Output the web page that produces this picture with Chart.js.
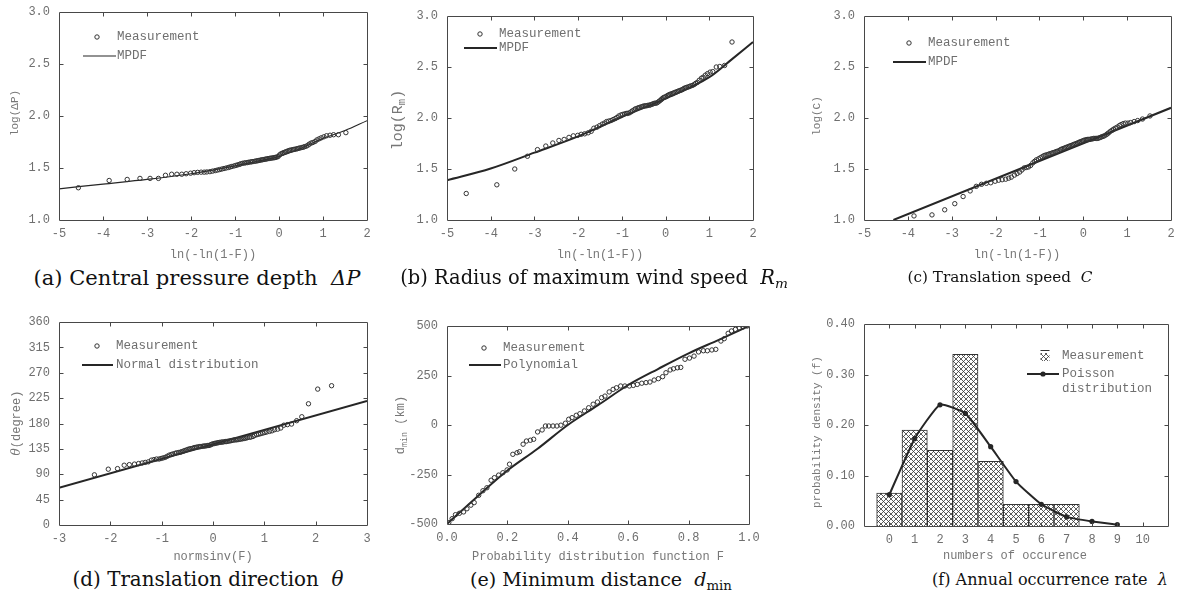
<!DOCTYPE html>
<html>
<head>
<meta charset="utf-8">
<script src="https://cdn.jsdelivr.net/npm/chart.js@4.4.1/dist/chart.umd.min.js"></script>
<style>
  html, body { margin: 0; padding: 0; background: #fff; }
  body { width: 1181px; height: 598px; position: relative; overflow: hidden; }
  canvas { position: absolute; }
  .lbl { position: absolute; white-space: nowrap; font-family: 'Liberation Mono', 'Courier New', monospace;
         font-size: 12px; color: #777; line-height: 1; transform: translate(-50%, -50%); }
  .ylbl { transform: translate(-50%, -50%) rotate(-90deg); }
  .lbl sub { font-size: 0.7em; vertical-align: -0.3em; line-height: 0; }
  .gk { font-family: 'DejaVu Serif', serif; font-style: italic; }
  .cap { position: absolute; white-space: nowrap; font-family: 'DejaVu Serif', serif; font-size: 19px;
         color: #111; line-height: 1; transform: translate(-50%, -50%); }
  .cap sub { font-size: 0.7em; vertical-align: -0.3em; line-height: 0; }
</style>
</head>
<body>
<canvas id="chartA"></canvas>
<canvas id="chartB"></canvas>
<canvas id="chartC"></canvas>
<canvas id="chartD"></canvas>
<canvas id="chartE"></canvas>
<canvas id="chartF"></canvas>

<!-- axis titles -->
<div class="lbl" style="left:213px;top:255px">ln(-ln(1-F))</div>
<div class="lbl" style="left:600px;top:255px">ln(-ln(1-F))</div>
<div class="lbl" style="left:1017px;top:255px">ln(-ln(1-F))</div>
<div class="lbl" style="left:213px;top:557px">normsinv(F)</div>
<div class="lbl" style="left:598px;top:557px">Probability distribution function F</div>
<div class="lbl" style="left:1015px;top:556px">numbers of occurence</div>
<div class="lbl ylbl" style="left:15px;top:113px;font-size:11px">log(ΔP)</div>
<div class="lbl ylbl" style="left:398px;top:120px;font-size:15px">log(R<sub>m</sub>)</div>
<div class="lbl ylbl" style="left:817px;top:116px;font-size:11px">log(C)</div>
<div class="lbl ylbl" style="left:16px;top:423px;font-size:12px"><i class="gk">θ</i>(degree)</div>
<div class="lbl ylbl" style="left:401px;top:425px;font-size:12px">d<sub>min</sub> (km)</div>
<div class="lbl ylbl" style="left:817px;top:432px;font-size:11px">probability density (f)</div>

<!-- captions -->
<div class="cap" data-w="327" style="left:197px;top:278px">(a) Central pressure depth&nbsp; <i>ΔP</i></div>
<div class="cap" data-w="388" style="left:594px;top:278px">(b) Radius of maximum wind speed&nbsp; <i>R<sub>m</sub></i></div>
<div class="cap" data-w="185" style="left:1000px;top:278px">(c) Translation speed&nbsp; <i>C</i></div>
<div class="cap" data-w="271" style="left:208px;top:580px">(d) Translation direction&nbsp; <i>θ</i></div>
<div class="cap" data-w="262" style="left:601px;top:580px">(e) Minimum distance&nbsp; <i>d</i><sub>min</sub></div>
<div class="cap" data-w="236" style="left:1050px;top:580px">(f) Annual occurrence rate&nbsp; <i>λ</i></div>

<script>
// Gumbel plotting positions ln(-ln(1-F)) (a)-(c)
const gumbelX = [-4.56, -3.86, -3.45, -3.16, -2.93, -2.74, -2.58, -2.44, -2.32, -2.21,
    -2.11, -2.01, -1.93, -1.85, -1.77, -1.70, -1.64, -1.57, -1.51, -1.45,
    -1.40, -1.35, -1.30, -1.25, -1.20, -1.15, -1.11, -1.07, -1.02, -0.98,
    -0.94, -0.90, -0.87, -0.83, -0.79, -0.76, -0.72, -0.69, -0.65, -0.62,
    -0.59, -0.55, -0.52, -0.49, -0.46, -0.43, -0.40, -0.37, -0.34, -0.31,
    -0.28, -0.25, -0.22, -0.19, -0.16, -0.13, -0.10, -0.08, -0.05, -0.02,
    0.01, 0.04, 0.07, 0.09, 0.12, 0.15, 0.18, 0.21, 0.24, 0.27,
    0.30, 0.33, 0.36, 0.39, 0.42, 0.45, 0.48, 0.52, 0.55, 0.58,
    0.62, 0.66, 0.69, 0.73, 0.77, 0.82, 0.86, 0.91, 0.96, 1.02,
    1.08, 1.16, 1.24, 1.35, 1.52];

// (a) log(ΔP)
const pressureY = [1.31, 1.38, 1.39, 1.40, 1.40, 1.40, 1.43, 1.44, 1.44, 1.44,
    1.445, 1.45, 1.455, 1.458, 1.46, 1.46, 1.462, 1.465, 1.47, 1.475,
    1.48, 1.485, 1.49, 1.495, 1.50, 1.505, 1.51, 1.515, 1.52, 1.525,
    1.53, 1.535, 1.54, 1.545, 1.548, 1.55, 1.552, 1.555, 1.558, 1.56,
    1.562, 1.565, 1.567, 1.57, 1.572, 1.575, 1.578, 1.58, 1.582, 1.585,
    1.587, 1.59, 1.592, 1.594, 1.596, 1.598, 1.60, 1.602, 1.605, 1.61,
    1.625, 1.635, 1.64, 1.645, 1.65, 1.655, 1.66, 1.665, 1.67, 1.672,
    1.675, 1.678, 1.68, 1.683, 1.686, 1.69, 1.693, 1.697, 1.70, 1.705,
    1.71, 1.72, 1.73, 1.74, 1.745, 1.755, 1.77, 1.78, 1.79, 1.80,
    1.81, 1.815, 1.82, 1.82, 1.84];
const pressureFitX = [-5, -4, -3, -2, -1.5, -1, -0.5, 0, 0.5, 1, 1.5, 2];
const pressureFitY = [1.30, 1.345, 1.39, 1.445, 1.48, 1.52, 1.565, 1.61, 1.69, 1.785, 1.86, 1.955];

// (b) log(Rm)
const radiusY = [1.26, 1.345, 1.50, 1.625, 1.69, 1.725, 1.755, 1.78, 1.79, 1.81,
    1.825, 1.83, 1.84, 1.845, 1.855, 1.87, 1.90, 1.91, 1.925, 1.94,
    1.95, 1.965, 1.97, 1.975, 1.985, 1.995, 2.005, 2.02, 2.03, 2.035,
    2.04, 2.045, 2.045, 2.05, 2.06, 2.07, 2.08, 2.09, 2.095, 2.10,
    2.105, 2.11, 2.115, 2.118, 2.12, 2.12, 2.125, 2.125, 2.13, 2.135,
    2.14, 2.145, 2.145, 2.15, 2.16, 2.17, 2.18, 2.19, 2.20, 2.205,
    2.21, 2.22, 2.225, 2.23, 2.235, 2.24, 2.245, 2.25, 2.255, 2.26,
    2.265, 2.27, 2.275, 2.28, 2.29, 2.295, 2.30, 2.305, 2.31, 2.315,
    2.32, 2.33, 2.34, 2.35, 2.37, 2.39, 2.40, 2.42, 2.435, 2.45,
    2.455, 2.50, 2.505, 2.515, 2.745];
const radiusFitX = [-5, -4, -3, -2, -1, 0, 1, 1.5, 2];
const radiusFitY = [1.39, 1.505, 1.66, 1.82, 2.01, 2.19, 2.40, 2.57, 2.745];

// (c) log(C) - the first point falls below the axis and is not shown
const speedY = [null, 1.04, 1.05, 1.10, 1.16, 1.23, 1.285, 1.33, 1.35, 1.36,
    1.365, 1.38, 1.39, 1.395, 1.40, 1.41, 1.42, 1.44, 1.455, 1.47,
    1.49, 1.51, 1.515, 1.52, 1.535, 1.56, 1.575, 1.59, 1.60, 1.61,
    1.62, 1.63, 1.635, 1.64, 1.645, 1.65, 1.655, 1.66, 1.665, 1.67,
    1.675, 1.68, 1.69, 1.695, 1.70, 1.705, 1.71, 1.715, 1.72, 1.725,
    1.73, 1.735, 1.74, 1.745, 1.75, 1.755, 1.76, 1.765, 1.77, 1.775,
    1.78, 1.785, 1.785, 1.79, 1.79, 1.79, 1.795, 1.795, 1.80, 1.80,
    1.80, 1.80, 1.805, 1.81, 1.815, 1.82, 1.825, 1.835, 1.845, 1.855,
    1.87, 1.88, 1.89, 1.90, 1.91, 1.925, 1.935, 1.945, 1.95, 1.95,
    1.955, 1.965, 1.975, 1.99, 2.02];
const speedFitX = [-4.33, 2];
const speedFitY = [1.0, 2.10];

// (d) normsinv(F) and direction in degrees
const normalX = [-2.31, -2.04, -1.86, -1.73, -1.63, -1.53, -1.45, -1.38, -1.32, -1.26,
    -1.20, -1.15, -1.10, -1.05, -1.01, -0.97, -0.93, -0.89, -0.85, -0.81,
    -0.78, -0.74, -0.71, -0.67, -0.64, -0.61, -0.58, -0.55, -0.52, -0.49,
    -0.46, -0.43, -0.40, -0.37, -0.35, -0.32, -0.29, -0.26, -0.24, -0.21,
    -0.18, -0.16, -0.13, -0.10, -0.08, -0.05, -0.03, 0,
    0.03, 0.05, 0.08, 0.10, 0.13, 0.16, 0.18,
    0.21, 0.24, 0.26, 0.29, 0.32, 0.35, 0.37, 0.40, 0.43, 0.46,
    0.49, 0.52, 0.55, 0.58, 0.61, 0.64, 0.67, 0.71, 0.74, 0.78,
    0.81, 0.85, 0.89, 0.93, 0.97, 1.01, 1.05, 1.10, 1.15, 1.20,
    1.26, 1.32, 1.38, 1.45, 1.53, 1.63, 1.73, 1.86, 2.04, 2.31];
const directionY = [89, 99, 100, 106, 107, 108, 109, 110, 111, 112,
    115, 116, 117, 117, 118, 119, 120, 122, 124, 125,
    126, 127, 128, 128.5, 129, 130, 131, 132, 133, 134,
    135, 135.5, 136, 137, 137.5, 138, 138.5, 139, 139, 139.5,
    140, 140, 140.5, 141, 141, 142, 143, 144,
    144.5, 145, 145.5, 146, 146.5, 147, 147,
    147.5, 148, 148, 148.5, 149, 149.5, 150, 150.5, 151, 151,
    151.5, 152, 152.5, 153, 153.5, 154, 155, 155.5, 156, 157,
    159, 160, 161, 162, 163, 164, 165, 166, 167, 169,
    170, 172, 177, 178, 179, 185, 192, 215, 241, 247];
const directionFitX = [-3, 3];
const directionFitY = [66, 220];

// (e) minimum distance against F
const distanceF = [0.006, 0.017, 0.028, 0.041, 0.055, 0.066, 0.079, 0.090, 0.105, 0.119,
    0.132, 0.146, 0.157, 0.171, 0.185, 0.199, 0.207, 0.218, 0.232, 0.240,
    0.252, 0.263, 0.276, 0.287, 0.300, 0.315, 0.326, 0.337, 0.351, 0.364,
    0.377, 0.392, 0.403, 0.414, 0.428, 0.440, 0.455, 0.469, 0.484, 0.498,
    0.512, 0.523, 0.537, 0.550, 0.561, 0.575, 0.589, 0.604, 0.617, 0.630,
    0.645, 0.659, 0.672, 0.686, 0.700, 0.714, 0.725, 0.739, 0.750, 0.763,
    0.774, 0.788, 0.803, 0.818, 0.833, 0.849, 0.862, 0.877, 0.890, 0.907,
    0.918, 0.931, 0.942, 0.955, 0.968, 0.980, 0.994];
const distanceY = [-493, -473, -453, -446, -439, -423, -405, -392, -355, -332,
    -317, -279, -266, -253, -241, -227, -198, -148, -140, -135,
    -97, -81, -77, -72, -35, -25, -5, -5, -5, -5,
    -1, 9, 29, 37, 49, 57, 71, 87, 105, 116,
    138, 146, 167, 180, 188, 197, 197, 197, 200, 205,
    211, 214, 217, 227, 234, 244, 264, 278, 284, 289,
    291, 332, 338, 348, 369, 375, 375, 379, 382, 424,
    436, 463, 475, 483, 490, 495, 500];
const distanceFitX = [0, 0.1, 0.2, 0.3, 0.4, 0.5, 0.6, 0.7, 0.8, 0.9, 1.0];
const distanceFitY = [-500, -362, -230, -120, 0, 100, 202, 284, 362, 430, 500];

// (f) annual occurrence histogram and Poisson fit
const occurrenceCounts = [0, 1, 2, 3, 4, 5, 6, 7];
const occurrenceFreq = [0.065, 0.19, 0.15, 0.34, 0.128, 0.043, 0.043, 0.043];
const poissonX = [0, 1, 2, 3, 4, 5, 6, 7, 8, 9];
const poissonY = [0.062, 0.173, 0.240, 0.223, 0.157, 0.088, 0.043, 0.018, 0.009, 0.003];

const MONO = "'Liberation Mono', 'Courier New', monospace";
const GREY = '#6f6f6f';
const INK = '#262626';
const PAD_LEFT = 58, PAD_TOP = 10, PAD_RIGHT = 16, PAD_BOTTOM = 30;

// plot areas in page pixels
const areas = {
    chartA: { x: 59, y: 12, w: 308, h: 208 },
    chartB: { x: 447, y: 16, w: 306, h: 204 },
    chartC: { x: 864, y: 16, w: 307, h: 204 },
    chartD: { x: 59, y: 322, w: 308, h: 203 },
    chartE: { x: 447, y: 326, w: 302, h: 198 },
    chartF: { x: 864, y: 324, w: 304, h: 202 }
};

function placeCanvas(id) {
    const a = areas[id];
    const c = document.getElementById(id);
    c.width = a.w + PAD_LEFT + PAD_RIGHT;
    c.height = a.h + PAD_TOP + PAD_BOTTOM;
    c.style.left = (a.x - PAD_LEFT) + 'px';
    c.style.top = (a.y - PAD_TOP) + 'px';
    return c;
}

function pairs(xs, ys) {
    return xs.map((x, i) => ({ x: x, y: ys[i] }));
}

function axis(side, min, max, step, fmt) {
    const isX = side === 'x';
    return {
        type: 'linear',
        position: isX ? 'bottom' : 'left',
        min: min, max: max, offset: false,
        grid: { display: false, drawTicks: false },
        border: { display: false },
        ticks: {
            stepSize: step, autoSkip: false, maxRotation: 0,
            padding: isX ? 7 : 9, color: GREY,
            font: { family: MONO, size: 12 },
            callback: fmt
        },
        afterFit(s) {
            if (isX) s.height = PAD_BOTTOM; else s.width = PAD_LEFT;
            s.paddingLeft = 0; s.paddingRight = 0; s.paddingTop = 0; s.paddingBottom = 0;
        }
    };
}

// box round the plot with short inward ticks on all four sides
const framePlugin = {
    id: 'frame',
    afterDatasetsDraw(chart) {
        const { ctx, chartArea: a, scales } = chart;
        const L = Math.round(a.left) + 0.5, R = Math.round(a.right) + 0.5;
        const T = Math.round(a.top) + 0.5, B = Math.round(a.bottom) + 0.5;
        ctx.save();
        ctx.strokeStyle = '#484848';
        ctx.lineWidth = 1;
        ctx.beginPath();
        ctx.rect(L, T, R - L, B - T);
        scales.x.ticks.forEach(t => {
            if (t.value <= scales.x.min || t.value >= scales.x.max) return;
            const px = Math.round(scales.x.getPixelForValue(t.value)) + 0.5;
            ctx.moveTo(px, B); ctx.lineTo(px, B - 4);
            ctx.moveTo(px, T); ctx.lineTo(px, T + 4);
        });
        scales.y.ticks.forEach(t => {
            if (t.value <= scales.y.min || t.value >= scales.y.max) return;
            const py = Math.round(scales.y.getPixelForValue(t.value)) + 0.5;
            ctx.moveTo(L, py); ctx.lineTo(L + 4, py);
            ctx.moveTo(R, py); ctx.lineTo(R - 4, py);
        });
        ctx.stroke();
        ctx.restore();
    }
};

// legend drawn inside the plot area, styled from the datasets
const legendPlugin = {
    id: 'insetLegend',
    afterDraw(chart, args, opts) {
        const items = opts.items || [];
        const { ctx, chartArea: a } = chart;
        ctx.save();
        ctx.font = '12.5px ' + MONO;
        ctx.textBaseline = 'middle';
        items.forEach(it => {
            const ds = chart.data.datasets[it.ds];
            const y = a.top + it.y;
            if (it.kind === 'circle') {
                ctx.beginPath();
                ctx.arc(a.left + it.x, y, ds.pointRadius, 0, Math.PI * 2);
                ctx.lineWidth = ds.pointBorderWidth;
                ctx.strokeStyle = ds.pointBorderColor;
                ctx.stroke();
            } else if (it.kind === 'line') {
                ctx.beginPath();
                ctx.moveTo(a.left + it.x1, y);
                ctx.lineTo(a.left + it.x2, y);
                ctx.lineWidth = ds.borderWidth;
                ctx.strokeStyle = ds.borderColor;
                ctx.stroke();
                if (it.dot) {
                    ctx.beginPath();
                    ctx.arc(a.left + it.dot, y, ds.pointRadius, 0, Math.PI * 2);
                    ctx.fillStyle = ds.pointBackgroundColor;
                    ctx.fill();
                }
            } else if (it.kind === 'hatch') {
                const x0 = a.left + it.x - 4.5, y0 = y - 3;
                ctx.fillStyle = ds.backgroundColor;
                ctx.fillRect(x0, y0, 9, 8);
                ctx.strokeStyle = ds.borderColor;
                ctx.lineWidth = 1;
                ctx.beginPath();
                ctx.moveTo(x0, y0 - 2.5); ctx.lineTo(x0 + 9, y0 - 2.5);
                ctx.stroke();
            }
            ctx.fillStyle = GREY;
            it.text.forEach((t, i) => ctx.fillText(t, a.left + opts.textX, y + i * 15));
        });
        ctx.restore();
    }
};

function baseOptions(xAxis, yAxis, legend) {
    return {
        responsive: false,
        animation: false,
        devicePixelRatio: 1,
        layout: { padding: { left: 0, top: PAD_TOP, right: PAD_RIGHT, bottom: 0 } },
        scales: { x: xAxis, y: yAxis },
        plugins: {
            legend: { display: false },
            tooltip: { enabled: false },
            insetLegend: legend
        }
    };
}

function measurementSet(xs, ys) {
    return {
        label: 'Measurement',
        data: pairs(xs, ys),
        showLine: false,
        pointRadius: 2.2,
        pointBorderWidth: 1,
        pointBorderColor: '#333',
        pointBackgroundColor: 'rgba(255,255,255,0)',
        order: 0
    };
}

function fitSet(label, xs, ys, width) {
    return {
        label: label,
        data: pairs(xs, ys),
        showLine: true,
        borderColor: INK,
        borderWidth: width,
        pointRadius: 0,
        cubicInterpolationMode: 'monotone',
        order: 1
    };
}

function scatterPanel(id, sets, xAxis, yAxis, legend) {
    new Chart(placeCanvas(id), {
        type: 'scatter',
        data: { datasets: sets },
        options: baseOptions(xAxis, yAxis, legend),
        plugins: [framePlugin, legendPlugin]
    });
}

const oneDec = v => v.toFixed(1);
const plain = v => String(v);

function legendFor(fitName, c, l, textX) {
    return {
        textX: textX,
        items: [
            { kind: 'circle', ds: 0, x: c[0], y: c[1], text: ['Measurement'] },
            { kind: 'line', ds: 1, x1: l[0], x2: l[1], y: l[2], text: [fitName] }
        ]
    };
}

function initPanels() {
    scatterPanel('chartA',
        [measurementSet(gumbelX, pressureY), fitSet('MPDF', pressureFitX, pressureFitY, 1.2)],
        axis('x', -5, 2, 1, plain), axis('y', 1, 3, 0.5, oneDec),
        legendFor('MPDF', [38, 25], [24, 57, 44], 58));

    scatterPanel('chartB',
        [measurementSet(gumbelX, radiusY), fitSet('MPDF', radiusFitX, radiusFitY, 2)],
        axis('x', -5, 2, 1, plain), axis('y', 1, 3, 0.5, oneDec),
        legendFor('MPDF', [33, 18], [17, 50, 32], 52));

    scatterPanel('chartC',
        [measurementSet(gumbelX, speedY), fitSet('MPDF', speedFitX, speedFitY, 2)],
        axis('x', -5, 2, 1, plain), axis('y', 1, 3, 0.5, oneDec),
        legendFor('MPDF', [45, 27], [29, 62, 46], 64));

    scatterPanel('chartD',
        [measurementSet(normalX, directionY), fitSet('Normal distribution', directionFitX, directionFitY, 2)],
        axis('x', -3, 3, 1, plain), axis('y', 0, 360, 45, plain),
        legendFor('Normal distribution', [38, 24], [23, 54, 43], 57));

    scatterPanel('chartE',
        [measurementSet(distanceF, distanceY), fitSet('Polynomial', distanceFitX, distanceFitY, 2)],
        axis('x', 0, 1, 0.2, oneDec), axis('y', -500, 500, 250, plain),
        legendFor('Polynomial', [37, 22], [22, 54, 39], 56));

    // cross-hatched fill for the histogram bars
    const canvasF = placeCanvas('chartF');
    const tile = document.createElement('canvas');
    tile.width = 5; tile.height = 5;
    const g = tile.getContext('2d');
    g.fillStyle = '#fff';
    g.fillRect(0, 0, 5, 5);
    g.strokeStyle = '#333';
    g.lineWidth = 0.8;
    g.beginPath();
    g.moveTo(0, 0); g.lineTo(5, 5);
    g.moveTo(5, 0); g.lineTo(0, 5);
    g.stroke();
    const hatch = canvasF.getContext('2d').createPattern(tile, 'repeat');

    new Chart(canvasF, {
        type: 'bar',
        data: {
            datasets: [{
                type: 'line',
                label: 'Poisson distribution',
                data: pairs(poissonX, poissonY),
                borderColor: INK,
                borderWidth: 2,
                pointRadius: 2.6,
                pointBorderWidth: 0,
                pointBackgroundColor: INK,
                tension: 0.15,
                order: 0
            }, {
                type: 'bar',
                label: 'Measurement',
                data: pairs(occurrenceCounts, occurrenceFreq),
                backgroundColor: hatch,
                borderColor: '#333',
                borderWidth: 1,
                barPercentage: 1,
                categoryPercentage: 1,
                order: 1
            }]
        },
        options: baseOptions(
            axis('x', -1, 11, 1, v => (v < 0 || v > 10) ? '' : String(v)),
            axis('y', 0, 0.4, 0.1, v => v.toFixed(2)),
            {
                textX: 198,
                items: [
                    { kind: 'hatch', ds: 1, x: 181, y: 32, text: ['Measurement'] },
                    { kind: 'line', ds: 0, x1: 163, x2: 195, y: 50, dot: 179, text: ['Poisson', 'distribution'] }
                ]
            }),
        plugins: [framePlugin, legendPlugin]
    });
}

// scale each caption so it spans the same width as in the figure
function fitCaptions() {
    document.querySelectorAll('.cap').forEach(el => {
        const w = el.getBoundingClientRect().width;
        const size = parseFloat(getComputedStyle(el).fontSize);
        el.style.fontSize = (size * Number(el.dataset.w) / w).toFixed(2) + 'px';
    });
}

fitCaptions();
initPanels();
</script>
</body>
</html>
